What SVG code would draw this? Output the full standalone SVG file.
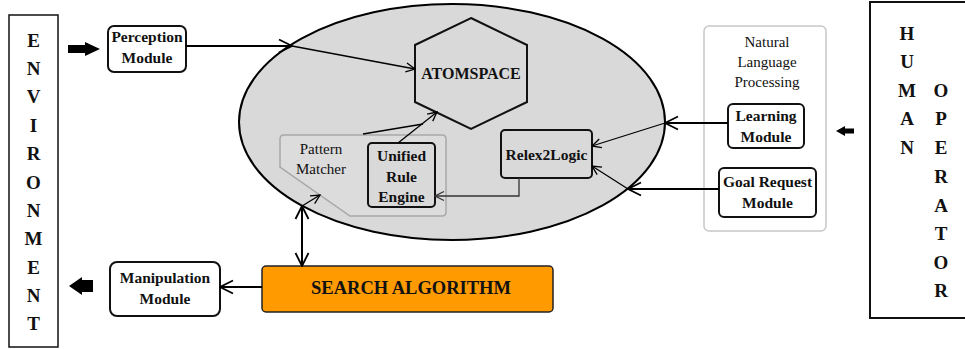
<svg xmlns="http://www.w3.org/2000/svg" width="965" height="349" viewBox="0 0 965 349">
<defs>
<marker id="big" markerUnits="userSpaceOnUse" markerWidth="16" markerHeight="16" viewBox="0 0 16 16" refX="15" refY="8" orient="auto-start-reverse"><path d="M2,1.5 L15,8 L2,14.5" fill="none" stroke="#000" stroke-width="1.8"/></marker>
<marker id="small" markerUnits="userSpaceOnUse" markerWidth="12" markerHeight="12" viewBox="0 0 12 12" refX="11" refY="6" orient="auto"><path d="M2,1.5 L11,6 L2,10.5" fill="none" stroke="#000" stroke-width="1.3"/></marker>
<marker id="smallg" markerUnits="userSpaceOnUse" markerWidth="12" markerHeight="12" viewBox="0 0 12 12" refX="11" refY="6" orient="auto"><path d="M2,1.5 L11,6 L2,10.5" fill="none" stroke="#333" stroke-width="1.3"/></marker>
</defs>
<style>
text{font-family:"Liberation Serif","Times New Roman",serif;fill:#111;text-anchor:middle}
.b{font-weight:bold;font-size:15.5px}
.r{font-size:15px}
.big{font-weight:bold;font-size:19px}
.box{fill:#fff;stroke:#111;stroke-width:2}
.gbox{fill:#d9d9d9;stroke:#111;stroke-width:2}
.thick{stroke:#000;stroke-width:2;fill:none}
.thin{stroke:#000;stroke-width:1.3;fill:none}
</style>

<g id="environment">
<rect x="9" y="15" width="49" height="332" fill="#fff" stroke="#111" stroke-width="1.5"/>
<text class="big" x="33.5" y="46.5">E</text>
<text class="big" x="33.5" y="74.5">N</text>
<text class="big" x="33.5" y="103">V</text>
<text class="big" x="33.5" y="131.5">I</text>
<text class="big" x="33.5" y="160">R</text>
<text class="big" x="33.5" y="188.5">O</text>
<text class="big" x="33.5" y="216.5">N</text>
<text class="big" x="33.5" y="245">M</text>
<text class="big" x="33.5" y="273.5">E</text>
<text class="big" x="33.5" y="301.5">N</text>
<text class="big" x="33.5" y="329.5">T</text>
</g>

<g id="human-operator">
<rect x="870" y="2" width="100" height="316" fill="#fff" stroke="#111" stroke-width="2"/>
<text class="big" x="907" y="39.5">H</text>
<text class="big" x="907" y="67.5">U</text>
<text class="big" x="907" y="96.5">M</text>
<text class="big" x="907" y="124.5">A</text>
<text class="big" x="907" y="153.5">N</text>
<text class="big" x="941" y="96.5">O</text>
<text class="big" x="941" y="124.5">P</text>
<text class="big" x="941" y="153.5">E</text>
<text class="big" x="941" y="182.5">R</text>
<text class="big" x="941" y="211.5">A</text>
<text class="big" x="941" y="239.5">T</text>
<text class="big" x="941" y="268.5">O</text>
<text class="big" x="941" y="296.5">R</text>
</g>

<g id="block-arrows" fill="#000">
<polygon points="68,45 85,45 85,42 100,49 85,56 85,53 68,53"/>
<polygon points="93,280 82,280 82,277 69,286 82,295 82,292 93,292"/>
<polygon points="854,128.5 845,128.5 845,126 836,131 845,136 845,133.5 854,133.5"/>
</g>

<g id="core">
<ellipse cx="452" cy="122" rx="213" ry="118" fill="#d9d9d9" stroke="#000" stroke-width="2"/>
</g>

<g id="nlp">
<rect x="704" y="26" width="122" height="205" rx="5" fill="#fff" stroke="#c8c8c8" stroke-width="1.5"/>
<text class="r" x="767" y="47">Natural</text>
<text class="r" x="767" y="67">Language</text>
<text class="r" x="767" y="87">Processing</text>
</g>

<g id="atomspace">
<polygon points="471,18 527,45 527,102 471,129 415,102 415,45" fill="#d9d9d9" stroke="#111" stroke-width="2"/>
<text x="471" y="78.5" style="font-weight:bold;font-size:16px">ATOMSPACE</text>
</g>

<g id="pattern-matcher">
<path d="M284,135 L442,135 Q446,135 446,139 L446,212 Q446,216 442,216 L350,216 L280,167 L280,139 Q280,135 284,135 Z" fill="#dcdcdc" stroke="#a8a8a8" stroke-width="1.5"/>
<text class="r" x="321" y="154">Pattern</text>
<text class="r" x="321" y="174">Matcher</text>
</g>

<g id="unified-rule-engine">
<rect x="368" y="143" width="67" height="64" rx="4" class="gbox"/>
<text class="b" x="401.5" y="161">Unified</text>
<text class="b" x="401.5" y="182">Rule</text>
<text class="b" x="401.5" y="202">Engine</text>
</g>

<g id="relex2logic">
<rect x="501" y="130" width="91" height="48" rx="4" class="gbox"/>
<text class="b" x="546.5" y="160">Relex2Logic</text>
</g>

<g id="perception-module">
<rect x="108" y="26" width="78" height="46" rx="6" class="box"/>
<text class="b" x="147" y="42">Perception</text>
<text class="b" x="147" y="63">Module</text>
</g>

<g id="learning-module">
<rect x="728" y="104" width="76" height="44" rx="5" class="box"/>
<text class="b" x="766" y="121">Learning</text>
<text class="b" x="766" y="142">Module</text>
</g>

<g id="goal-request-module">
<rect x="719" y="168" width="97" height="49" rx="5" class="box"/>
<text class="b" x="767.5" y="187">Goal Request</text>
<text class="b" x="767.5" y="208">Module</text>
</g>

<g id="manipulation-module">
<rect x="110" y="262" width="110" height="54" rx="7" class="box"/>
<text class="b" x="165" y="283">Manipulation</text>
<text class="b" x="165" y="304">Module</text>
</g>

<g id="search-algorithm">
<rect x="262" y="266" width="291" height="46" rx="4" fill="#ff9a00" stroke="#222" stroke-width="1.5"/>
<text x="411" y="294" style="font-weight:bold;font-size:18.5px">SEARCH ALGORITHM</text>
</g>

<g id="connectors">
<line x1="186" y1="46" x2="292" y2="46" class="thick" marker-end="url(#big)"/>
<line x1="292" y1="46" x2="415" y2="69" class="thin" marker-end="url(#small)"/>
<line x1="363" y1="134" x2="423" y2="124" class="thin"/>
<line x1="398" y1="143" x2="437" y2="112" class="thin" marker-end="url(#small)"/>
<polyline points="519,178 519,196 435,196" fill="none" stroke="#333" stroke-width="1.3" marker-end="url(#smallg)"/>
<line x1="728" y1="123" x2="665" y2="123" class="thick" marker-end="url(#big)"/>
<line x1="665" y1="123" x2="592" y2="146" class="thin" marker-end="url(#small)"/>
<line x1="719" y1="189" x2="628" y2="189" class="thick" marker-end="url(#big)"/>
<line x1="628" y1="189" x2="592" y2="166" class="thin" marker-end="url(#small)"/>
<line x1="302" y1="266" x2="302" y2="206" class="thick" marker-start="url(#big)" marker-end="url(#big)"/>
<line x1="302" y1="206" x2="320" y2="195" class="thin" marker-end="url(#small)"/>
<line x1="262" y1="287" x2="220" y2="287" class="thick" marker-end="url(#big)"/>
</g>
</svg>
